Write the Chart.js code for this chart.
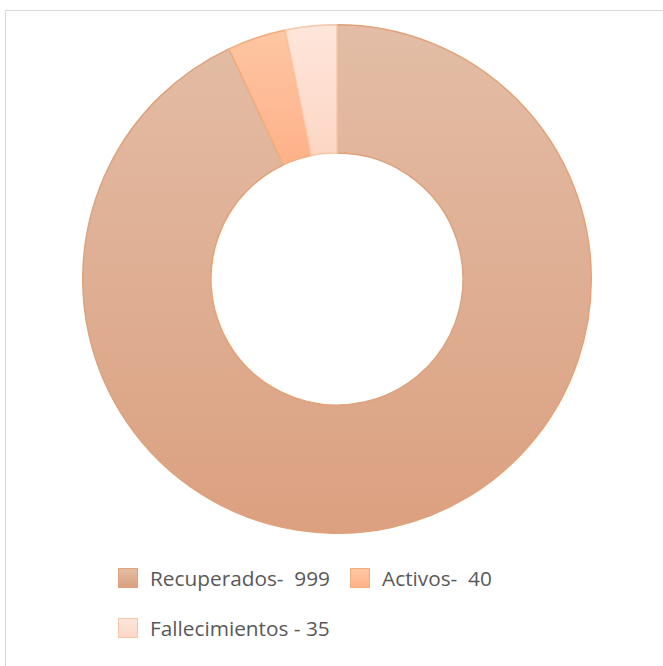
<!DOCTYPE html>
<html>
<head>
<meta charset="utf-8">
<script src="https://cdn.jsdelivr.net/npm/chart.js@4/dist/chart.umd.min.js"></script>
<style>
  html, body { margin: 0; padding: 0; background: #fff; width: 663px; height: 666px; overflow: hidden; }
  #frame { position: absolute; left: 5px; top: 10px; width: 700px; height: 700px; border: 1.5px solid #d9d9d9; box-sizing: border-box; }
  #wrap { position: absolute; left: 82px; top: 24px; width: 510px; height: 510px; }
  #legend { position: absolute; left: 118px; top: 553px; width: 440px; font-family: "Open Sans", sans-serif; font-size: 20.8px; color: #595959; }
  .row { display: flex; align-items: center; height: 50px; }
  .item { display: flex; align-items: center; margin-right: 20px; }
  .box { width: 20px; height: 20px; box-sizing: border-box; border: 1.2px solid; margin-right: 12px; }
  .txt { white-space: pre; line-height: 1; }
</style>
</head>
<body>
<div id="frame"></div>
<div id="wrap"><canvas id="c" width="510" height="510"></canvas></div>
<div id="legend"></div>
<script>
const categories = ["Recuperados", "Activos", "Fallecimientos"];
const legendLabels = ["Recuperados-  999", "Activos-  40", "Fallecimientos - 35"];
const values = [999, 40, 35];
const fillTop = ["#e3bda6", "#fdc7a4", "#fde6db"];
const fillBottom = ["#dba080", "#feb28a", "#fdd6c4"];
const borderColors = ["#e0a27a", "#f4ac7c", "#f6c7aa"];
const legendRows = [[0, 1], [2]];

function makeGrad(ctx, area, i) {
  const top = area.top;
  const bottom = i === 0 ? area.bottom : area.top + area.height * 0.26;
  const g = ctx.createLinearGradient(0, top, 0, bottom);
  g.addColorStop(0, fillTop[i]);
  g.addColorStop(1, fillBottom[i]);
  return g;
}

new Chart(document.getElementById('c'), {
  type: 'doughnut',
  data: {
    labels: categories,
    datasets: [{
      data: values,
      backgroundColor: (c) => {
        const chart = c.chart;
        if (!chart.chartArea) return fillTop[c.dataIndex];
        return makeGrad(chart.ctx, chart.chartArea, c.dataIndex);
      },
      borderColor: borderColors,
      borderWidth: 1.5
    }]
  },
  options: {
    responsive: false,
    animation: false,
    cutout: '49.6%',
    plugins: { legend: { display: false }, tooltip: { enabled: false } }
  }
});

const legend = document.getElementById('legend');
legendRows.forEach(r => {
  const row = document.createElement('div');
  row.className = 'row';
  r.forEach(i => {
    const item = document.createElement('div');
    item.className = 'item';
    const box = document.createElement('div');
    box.className = 'box';
    box.style.background = `linear-gradient(${fillTop[i]}, ${fillBottom[i]})`;
    box.style.borderColor = borderColors[i];
    const t = document.createElement('span');
    t.className = 'txt';
    t.textContent = legendLabels[i];
    item.appendChild(box);
    item.appendChild(t);
    row.appendChild(item);
  });
  legend.appendChild(row);
});
</script>
</body>
</html>
